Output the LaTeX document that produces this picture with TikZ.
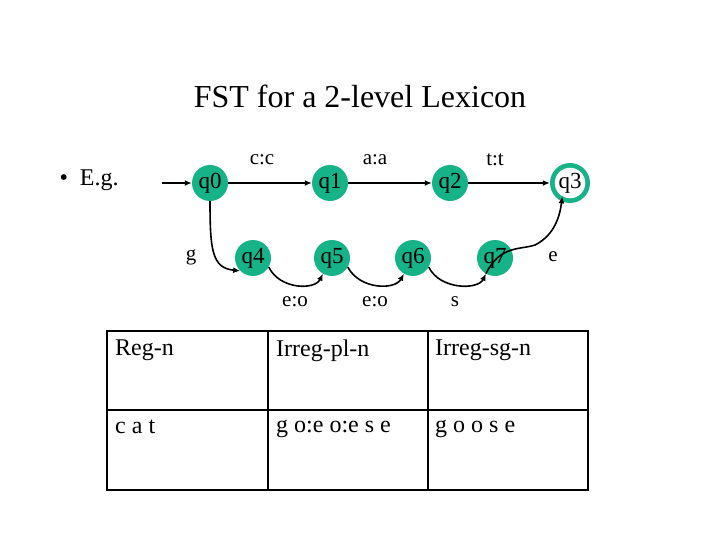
\documentclass[tikz,border=0pt]{standalone}
\usepackage{fontspec}
\setmainfont{Liberation Serif}
\usetikzlibrary{arrows.meta}
\definecolor{stgreen}{RGB}{22,178,136}
\begin{document}
\begin{tikzpicture}[x=1pt,y=-1pt,
  st/.style={circle,fill=stgreen,minimum size=36pt,inner sep=0pt,font=\fontsize{23}{23}\selectfont},
  lab/.style={font=\fontsize{21}{21}\selectfont},
  ar/.style={line width=1.6pt,-{Latex[length=7pt,width=6pt]}},
  cell/.style={anchor=north west,inner sep=0pt,font=\fontsize{24}{24}\selectfont}]
\useasboundingbox (0,0) rectangle (720,540);
\node[font=\fontsize{32}{32}\selectfont] (title) at (360,96) {FST for a 2-level Lexicon};
\node[font=\fontsize{24}{24}\selectfont,anchor=west] (eg) at (56,180) {\textbullet\ \ E.g.};
\node[st] (q0) at (210,183) {q0};
\node[st] (q1) at (330,183) {q1};
\node[st] (q2) at (450,183) {q2};
\node[circle,fill=stgreen,minimum size=40pt,inner sep=0pt] (q3o) at (570,183) {};
\node[circle,fill=white,minimum size=24pt,inner sep=0pt,font=\fontsize{23}{23}\selectfont] (q3) at (570,183) {q3};
\node[st] (q4) at (253,258) {q4};
\node[st] (q5) at (332,258) {q5};
\node[st] (q6) at (413,258) {q6};
\node[st] (q7) at (495,258) {q7};
\coordinate (start) at (162,183);
\draw[ar] (start) -- (q0);
\draw[ar] (q0) -- (q1);
\draw[ar] (q1) -- (q2);
\draw[ar] (q2) -- (q3o);
\draw[ar] (q0.south) .. controls (210,250) and (212,268) .. (q4.south west);
\draw[ar] (q4.-30) .. controls (280,290) and (315,290) .. (q5.-120);
\draw[ar] (q5.-30) .. controls (360,290) and (395,290) .. (q6.-120);
\draw[ar] (q6.-30) .. controls (440,290) and (478,290) .. (q7.-120);
\draw[ar] (q7.-120) .. controls (500,245) and (520,250) .. (535,245) .. controls (555,235) and (560,215) .. (q3.-120);
\node[lab] (l1) at (262,160) {c:c};
\node[lab] (l2) at (375,160) {a:a};
\node[lab] (l3) at (495,160) {t:t};
\node[lab] (l4) at (191,257) {g};
\node[lab] (l5) at (553,257) {e};
\node[lab] (l6) at (295,302) {e:o};
\node[lab] (l7) at (375,302) {e:o};
\node[lab] (l8) at (455,302) {s};
\draw[line width=2pt] (107,331) rectangle (588,490);
\draw[line width=2pt] (107,410) -- (588,410);
\draw[line width=2pt] (268,331) -- (268,490);
\draw[line width=2pt] (428,331) -- (428,490);
\node[cell] (c1) at (115,340) {Reg-n};
\node[cell] (c2) at (276,340) {Irreg-pl-n};
\node[cell] (c3) at (435,340) {Irreg-sg-n};
\node[cell] (c4) at (115,420) {c a t};
\node[cell] (c5) at (276,420) {g o:e o:e s e};
\node[cell] (c6) at (435,420) {g o o s e};
\end{tikzpicture}
\end{document}
